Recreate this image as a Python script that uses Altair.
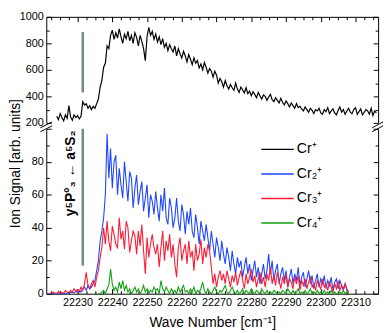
import altair as alt
import numpy as np
import pandas as pd

# ---------------- data ----------------
STEP = 0.5
CR1_START = 22224.0
cr1 = [250, 225, 270, 240, 215, 260, 235, 330, 245, 220,
       260, 240, 255, 230, 250, 360, 335, 345, 310, 330,
       300, 325, 310, 345, 380, 470, 520, 620, 650, 780,
       760, 860, 900, 830, 880, 840, 910, 850, 800, 870,
       835, 890, 820, 860, 800, 880, 845, 780, 860, 815,
       760, 670, 850, 920, 860, 890, 830, 870, 810, 850,
       790, 835, 770, 800, 745, 790, 760, 735, 780, 705,
       760, 720, 690, 740, 705, 660, 715, 680, 640, 690,
       650, 670, 615, 645, 600, 655, 620, 575, 610, 590,
       545, 590, 560, 500, 535, 510, 470, 520, 480, 455,
       490, 465, 445, 500, 455, 430, 470, 450, 425, 465,
       420, 440, 405, 435, 415, 390, 430, 405, 380, 410,
       400, 370, 395, 415, 375, 360, 390, 370, 350, 385,
       355, 335, 365, 345, 320, 350, 330, 310, 345, 315,
       325, 305, 290, 320, 300, 280, 310, 295, 270, 300,
       290, 310, 275, 265, 300, 285, 315, 270, 290, 305,
       275, 260, 295, 320, 280, 300, 265, 290, 310, 280,
       270, 300, 315, 265, 285, 305, 260, 280, 300, 290,
       265, 310, 255, 290, 275]

CR23_START = 22222.0
cr2 = [0, 0.5, 0, 0.3, 0, 0.5, 0, 0, 0.4, 0,
       0.5, 0, 0.8, 1, 0.5, 1.5, 0.8, 2, 1, 3,
       4, 2, 5, 3, 4, 6, 8, 14, 20, 32,
       38, 46, 60, 97, 70, 88, 64, 80, 84, 60,
       76, 66, 58, 80, 68, 56, 74, 70, 52, 64,
       72, 54, 62, 68, 50, 58, 66, 46, 60, 56,
       48, 62, 52, 44, 60, 50, 64, 46, 42, 58,
       52, 40, 46, 58, 44, 38, 54, 48, 36, 50,
       42, 52, 38, 34, 48, 40, 30, 44, 38, 32,
       42, 34, 26, 38, 30, 22, 34, 28, 20, 32,
       24, 18, 28, 22, 14, 26, 18, 12, 22, 16,
       20, 10, 16, 22, 12, 18, 8, 14, 20, 10,
       16, 6, 12, 18, 9, 14, 24, 12, 20, 8,
       14, 18, 6, 12, 16, 8, 14, 4, 10, 15,
       6, 12, 8, 16, 5, 10, 13, 4, 9, 14,
       6, 11, 3, 8, 12, 4, 9, 6, 11, 3,
       8, 5, 10, 2, 7, 9, 3, 8, 5, 2,
       6, 3, 1]
cr3 = [0, 0.5, 1, 0.3, 0, 1.5, 0.5, 1, 0, 2,
       1, 0.5, 2, 1, 3, 1.5, 2.5, 1, 4, 2,
       6, 13, 5, 3, 6, 8, 4, 10, 14, 22,
       28, 40, 30, 44, 32, 26, 41, 36, 30, 28,
       46, 33, 38, 27, 44, 40, 25, 32, 38, 35,
       24, 38, 29, 42, 26, 12, 34, 22, 30, 36,
       28, 24, 30, 16, 28, 38, 20, 32, 26, 36,
       22, 30, 18, 10, 28, 34, 20, 26, 30, 18,
       32, 22, 26, 14, 30, 20, 24, 33, 18, 28,
       22, 30, 26, 16, 6, 12, 4, 10, 14, 8,
       12, 6, 14, 9, 4, 11, 7, 13, 5, 10,
       14, 8, 3, 12, 6, 10, 15, 7, 11, 4,
       9, 13, 6, 10, 4, 12, 8, 16, 6, 11,
       5, 13, 8, 3, 10, 6, 12, 4, 9, 7,
       3, 10, 6, 11, 2, 8, 5, 9, 3, 7,
       10, 4, 6, 2, 8, 5, 3, 9, 4, 6,
       2, 7, 4, 1, 6, 3, 8, 2, 5, 3,
       6, 2, 0]

CR4_START = 22236.0
cr4 = [0, 0, 1, 2, 0, 3, 5, 15, 6, 2,
       4, 1, 7, 3, 8, 2, 5, 1, 3, 0,
       2, 4, 1, 3, 0, 2, 5, 1, 3, 0,
       2, 1, 4, 2, 3, 0, 8, 3, 1, 4,
       2, 0, 3, 1, 2, 0, 4, 1, 3, 5,
       1, 2, 0, 3, 1, 4, 0, 2, 1, 3,
       7, 2, 0, 3, 1, 0, 2, 4, 1, 0,
       2, 1, 3, 5, 1, 0, 2, 4, 1, 0,
       2, 0, 1, 3, 0, 2, 1, 0, 3, 1,
       0, 2, 1, 0, 3, 1, 0, 2, 0, 1,
       0, 2, 1, 0, 1, 0, 2, 1, 0, 3,
       1, 0, 2, 0, 1, 3, 0, 1, 0, 2,
       0, 1, 3, 0, 1, 0, 2, 0, 1, 0,
       2, 0, 1, 0, 2, 0, 1, 0, 0, 1,
       0, 2, 0, 1, 0]

series_names = ["Cr⁺", "Cr₂⁺", "Cr₃⁺", "Cr₄⁺"]
series_colors = ["#000000", "#1e46ff", "#ff1a33", "#12a012"]

TRANS_WN = 22231.5
trans_top = [430, 885]
trans_bot = [17, 100]
trans_label = "y⁵P°₃ ← a⁵S₂"
label_wn = 22228.2
label_y = 73

x_domain = [22221, 22316.5]
y_top_domain = [200, 1000]
y_bot_domain = [0, 100]
x_tick_values = [float(v) for v in np.arange(22222.5, 22316, 2.5)]
y_top_ticks = list(range(200, 1001, 100))
y_bot_ticks = list(range(0, 101, 10))

# ---------------- layout ----------------
FONT = "Liberation Sans"
GRAY = "#6f8b8b"
W, H1, H2, GAP = 338, 108, 168, 6


def frame(start, vals):
    return pd.DataFrame({"wn": start + STEP * np.arange(len(vals)), "signal": vals})


top_df = frame(CR1_START, cr1)
cr2_df = frame(CR23_START, cr2)
cr3_df = frame(CR23_START, cr3)
cr4_df = frame(CR4_START, cr4)

xs = alt.Scale(domain=x_domain, nice=False, zero=False)
ys_top = alt.Scale(domain=y_top_domain, nice=False, zero=False)
ys_bot = alt.Scale(domain=y_bot_domain, nice=False)

X_TICK = {"expr": "datum.value % 10 === 0 ? -5 : -3"}
YT_TICK = {"expr": "datum.value % 200 === 0 ? -5 : -3"}
YB_TICK = {"expr": "datum.value % 20 === 0 ? -5 : -3"}

common = dict(grid=False, labelFlush=False, labelOverlap=False,
              domainColor="black", tickColor="black", domainWidth=1, tickWidth=1)

ax_top = alt.Axis(orient="top", values=x_tick_values, tickSize=X_TICK,
                  labels=False, title=None, **common)
ax_bot = alt.Axis(orient="bottom", values=x_tick_values, tickSize=X_TICK, format="d",
                  labelExpr="datum.value % 10 === 0 ? datum.label : ''",
                  labelPadding=8, title="Wave Number [cm⁻¹]", titlePadding=6, **common)
ay_top_l = alt.Axis(orient="left", values=y_top_ticks, tickSize=YT_TICK, format="d",
                    labelExpr="datum.value % 200 === 0 ? datum.label : ''",
                    labelPadding=8, title=None, **common)
ay_top_r = alt.Axis(orient="right", values=y_top_ticks, tickSize=YT_TICK,
                    labels=False, title=None, **common)
ay_bot_l = alt.Axis(orient="left", values=y_bot_ticks, tickSize=YB_TICK, format="d",
                    labelExpr="datum.value % 20 === 0 && datum.value < 100 ? datum.label : ''",
                    labelPadding=8, title="Ion Signal [arb. units]",
                    titleX=-24, titleY=35, titleAngle=270, titleAlign="center",
                    titleBaseline="bottom", **common)
ay_bot_r = alt.Axis(orient="right", values=y_bot_ticks, tickSize=YB_TICK,
                    labels=False, title=None, **common)

one = pd.DataFrame({"k": [0]})


def brk(x1, x2, y1, y2):
    return alt.Chart(one).mark_rule(color="black", strokeWidth=1).encode(
        x=alt.value(x1), x2=alt.value(x2), y=alt.value(y1), y2=alt.value(y2))


# ---- top panel ----
top_line = alt.Chart(top_df).mark_line(color="black", strokeWidth=1.2).encode(
    x=alt.X("wn:Q", scale=xs, axis=ax_top),
    y=alt.Y("signal:Q", scale=ys_top, axis=ay_top_l))
top_rule = alt.Chart(pd.DataFrame({"wn": [TRANS_WN], "lo": [trans_top[0]], "hi": [trans_top[1]]})).mark_rule(
    color=GRAY, strokeWidth=2.5).encode(
    x=alt.X("wn:Q", scale=xs, axis=ax_top),
    y=alt.Y("lo:Q", scale=ys_top, axis=ay_top_r), y2="hi:Q")

top = alt.layer(
    top_line, top_rule,
    brk(-6, 6, H1 + 5, H1 - 1), brk(-6, 6, H1 + 9, H1 + 3),
    brk(W - 6, W + 5, H1 + 5, H1 - 1), brk(W - 6, W + 5, H1 + 9, H1 + 3),
).resolve_scale(y="independent").resolve_axis(y="independent").properties(width=W, height=H1)


# ---- bottom panel ----
def series_line(df, color, axis):
    return alt.Chart(df).mark_line(color=color, strokeWidth=1.1).encode(
        x=alt.X("wn:Q", scale=xs, axis=ax_bot),
        y=alt.Y("signal:Q", scale=ys_bot, axis=axis))


blue = series_line(cr2_df, series_colors[1], ay_bot_l)
red = series_line(cr3_df, series_colors[2], None)
green = series_line(cr4_df, series_colors[3], None)

bot_rule = alt.Chart(pd.DataFrame({"wn": [TRANS_WN], "lo": [trans_bot[0]], "hi": [trans_bot[1]]})).mark_rule(
    color=GRAY, strokeWidth=2.5).encode(
    x=alt.X("wn:Q", scale=xs, axis=ax_bot),
    y=alt.Y("lo:Q", scale=ys_bot, axis=ay_bot_r), y2="hi:Q")

trans_text = alt.Chart(pd.DataFrame({"wn": [label_wn], "y": [label_y], "t": [trans_label]})).mark_text(
    angle=270, font=FONT, fontSize=14, fontWeight="bold", align="center", baseline="middle",
    color="black").encode(
    x=alt.X("wn:Q", scale=xs, axis=ax_bot),
    y=alt.Y("y:Q", scale=ys_bot, axis=None), text="t:N")

leg_df = pd.DataFrame({"series": series_names, "color": series_colors})
leg_y = alt.Y("series:N", scale=alt.Scale(type="point", domain=series_names, range=[21, 96], padding=0),
              axis=None)
leg_rule = alt.Chart(leg_df).mark_rule(strokeWidth=1.5).encode(
    x=alt.value(219), x2=alt.value(252), y=leg_y, color=alt.Color("color:N", scale=None))
leg_text = alt.Chart(leg_df).mark_text(align="left", baseline="middle", font=FONT, fontSize=14.5,
                                       color="black").encode(
    x=alt.value(255), y=leg_y, text="series:N")

bottom = alt.layer(blue, red, green, bot_rule, trans_text, leg_rule, leg_text).resolve_scale(
    y="independent").resolve_axis(y="independent").properties(width=W, height=H2)

chart = alt.vconcat(top, bottom, spacing=GAP, bounds="flush").properties(
    padding=0, background="white"
).configure_view(stroke=None).configure_axis(
    labelFont=FONT, labelFontSize=11, labelColor="black",
    titleFont=FONT, titleFontSize=14, titleColor="black", titleFontWeight="normal")

chart.save("out.html", embed_options={"renderer": "svg", "actions": False})
